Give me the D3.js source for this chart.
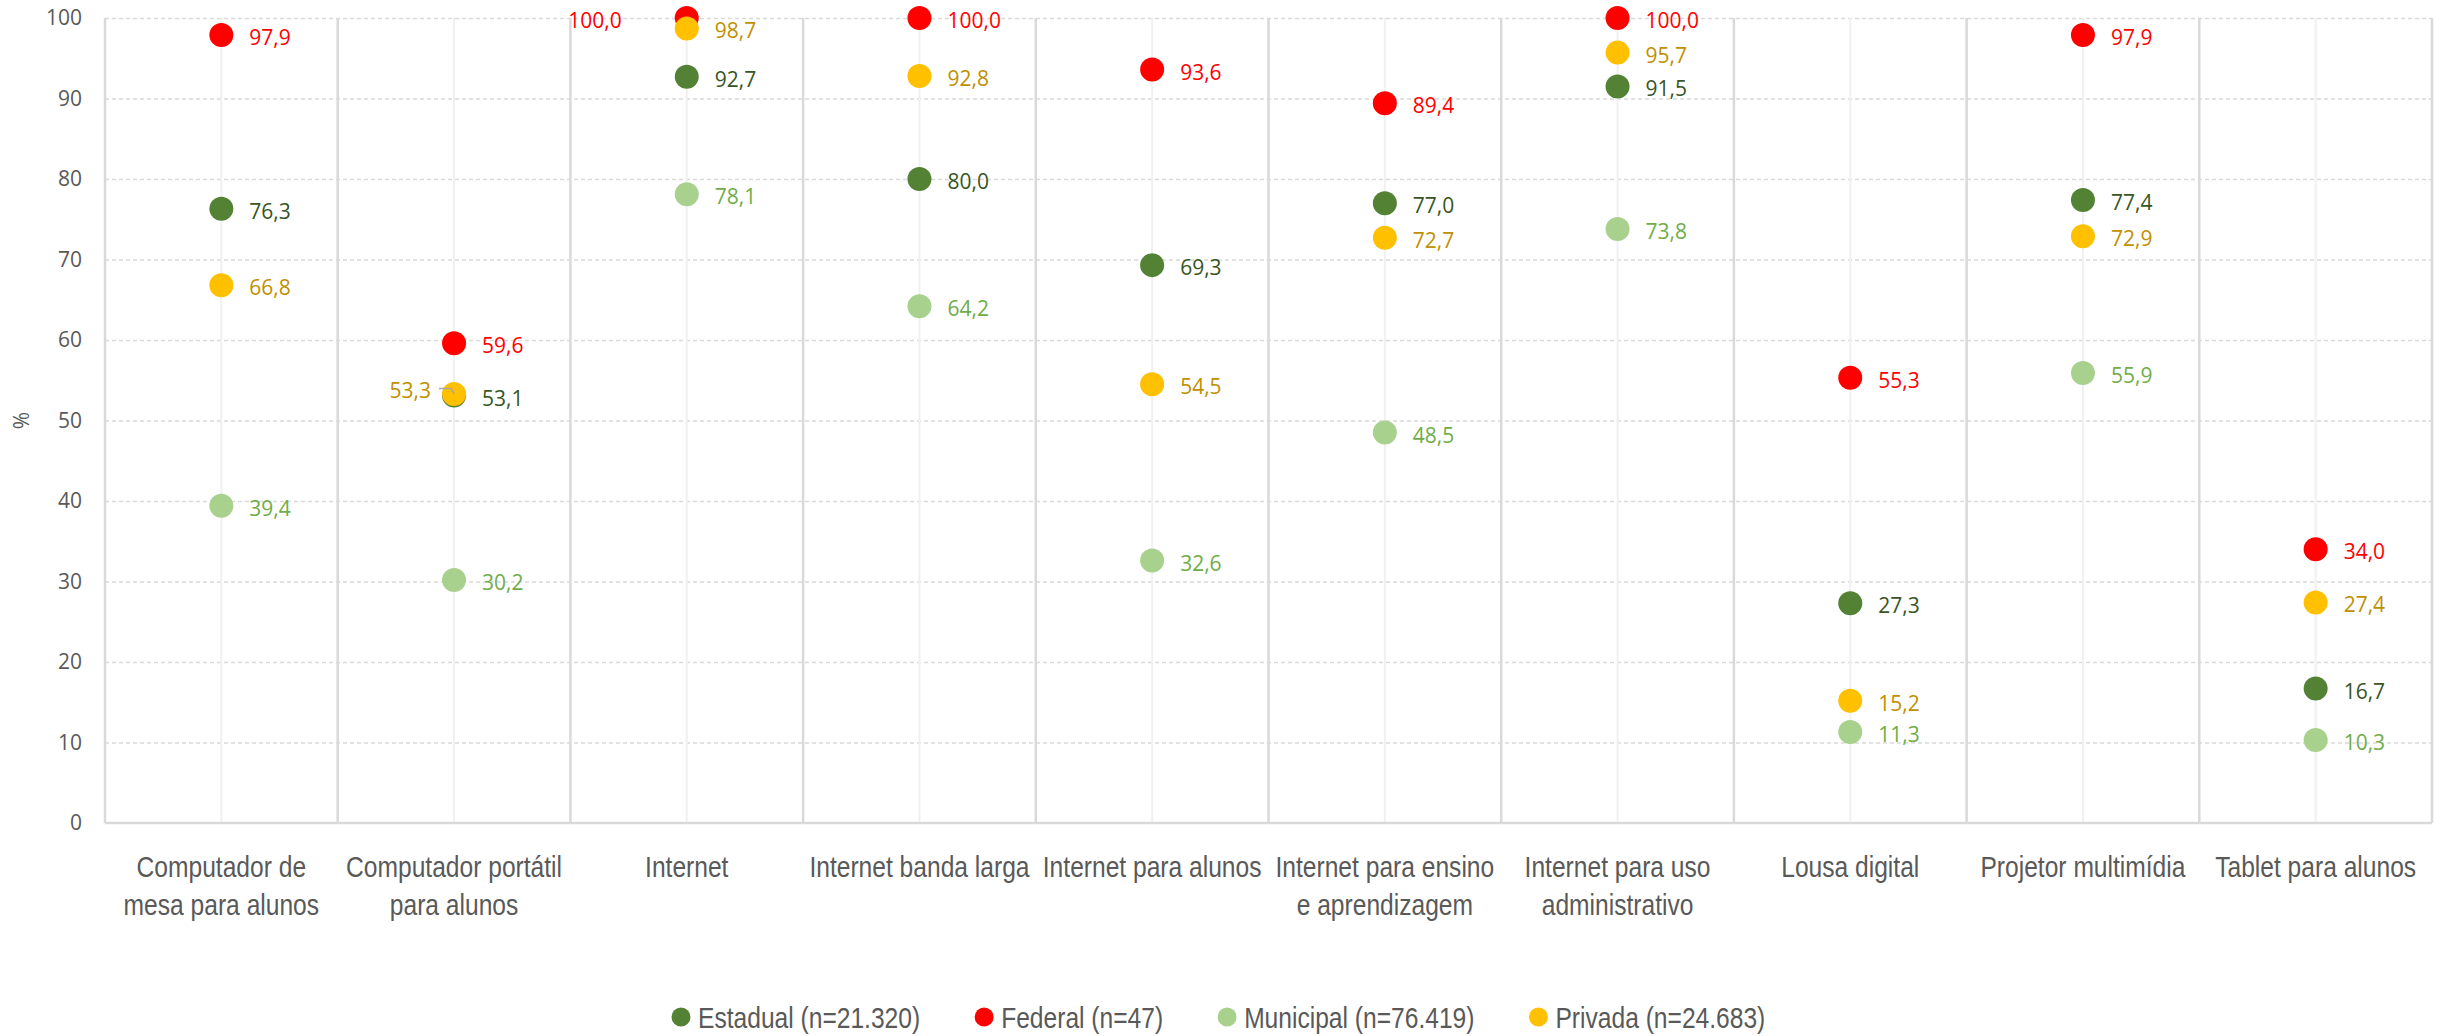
<!DOCTYPE html>
<html>
<head>
<meta charset="utf-8">
<title>Dot plot</title>
<script src="https://cdn.jsdelivr.net/npm/d3@7"></script>
<style>
  body { margin: 0; background: #fff; }
  .narrow { font-family: "Liberation Sans Narrow", "Arial Narrow", "Liberation Sans", sans-serif; }
  .num { font-family: "Open Sans", "Noto Sans", sans-serif; }
</style>
</head>
<body>
<svg width="2446" height="1036"></svg>
<script>
  // dados
  const categories = [
    "Computador de\nmesa para alunos",
    "Computador portátil\npara alunos",
    "Internet",
    "Internet banda larga",
    "Internet para alunos",
    "Internet para ensino\ne aprendizagem",
    "Internet para uso\nadministrativo",
    "Lousa digital",
    "Projetor multimídia",
    "Tablet para alunos"
  ];
  const seriesNames = ["Estadual (n=21.320)", "Federal (n=47)", "Municipal (n=76.419)", "Privada (n=24.683)"];
  const estadual  = [76.3, 53.1, 92.7, 80.0, 69.3, 77.0, 91.5, 27.3, 77.4, 16.7];
  const federal   = [97.9, 59.6, 100.0, 100.0, 93.6, 89.4, 100.0, 55.3, 97.9, 34.0];
  const municipal = [39.4, 30.2, 78.1, 64.2, 32.6, 48.5, 73.8, 11.3, 55.9, 10.3];
  const privada   = [66.8, 53.3, 98.7, 92.8, 54.5, 72.7, 95.7, 15.2, 72.9, 27.4];
  const yTicks = [0, 10, 20, 30, 40, 50, 60, 70, 80, 90, 100];

  const dotColors   = ["#548235", "#ff0000", "#a9d18e", "#ffc000"];
  const labelColors = ["#375623", "#ff0000", "#70ad47", "#bf9000"];
  // rótulos deslocados para a esquerda (série, categoria)
  const leftLabels = [[1, 2], [3, 1]];

  const series = [estadual, federal, municipal, privada].map((vals, i) => ({
    name: seriesNames[i], idx: i,
    points: vals.map((v, j) => ({ cat: categories[j], j: j, value: v }))
  }));

  const svg = d3.select("svg"),
        margin = {top: 18, right: 14, bottom: 213, left: 105},
        W = +svg.attr("width"), H = +svg.attr("height");

  // sem fonte estreita instalada: comprime a fonte normal
  const squeeze = 0.82;

  const x = d3.scaleBand().domain(categories).range([margin.left, W - margin.right]).padding(0),
        y = d3.scaleLinear().domain([0, 100]).range([H - margin.bottom, margin.top]);

  const fmt = v => d3.format(".1f")(v).replace(".", ",");

  // linhas de grade horizontais
  svg.append("g")
    .attr("transform", `translate(${margin.left},0)`)
    .call(d3.axisLeft(y).tickValues(yTicks.slice(1)).tickSize(-(W - margin.left - margin.right)).tickFormat(""))
    .call(g => g.select(".domain").remove())
    .call(g => g.selectAll("line").attr("stroke", "#d9d9d9").attr("stroke-width", 1.3).attr("stroke-dasharray", "4,3"));

  // linhas verticais centrais (claras)
  svg.append("g").selectAll("line")
    .data(categories).join("line")
    .attr("x1", d => x(d) + x.bandwidth() / 2).attr("x2", d => x(d) + x.bandwidth() / 2)
    .attr("y1", y(100)).attr("y2", y(0))
    .attr("stroke", "#f0f0f0").attr("stroke-width", 2);

  // separadores das categorias
  const seps = categories.map(d => x(d)).concat([x.range()[1]]);
  svg.append("g").selectAll("line")
    .data(seps).join("line")
    .attr("x1", d => d).attr("x2", d => d)
    .attr("y1", y(100)).attr("y2", y(0))
    .attr("stroke", "#d9d9d9").attr("stroke-width", 2.5);

  svg.append("line")
    .attr("x1", margin.left).attr("x2", W - margin.right)
    .attr("y1", y(0)).attr("y2", y(0))
    .attr("stroke", "#d9d9d9").attr("stroke-width", 2.5);

  // eixo Y
  svg.append("g")
    .attr("transform", `translate(${margin.left - 23},0)`)
    .call(d3.axisLeft(y).tickValues(yTicks).tickSize(0).tickPadding(0))
    .call(g => g.select(".domain").remove())
    .call(g => g.selectAll("text").attr("class", "num").attr("font-size", 21).attr("fill", "#595959"));

  svg.append("text")
    .attr("class", "num")
    .attr("transform", `translate(29,${y(50)}) rotate(-90)`)
    .attr("text-anchor", "middle")
    .attr("font-size", 21).attr("fill", "#595959")
    .text("%");

  // eixo X
  const xAxis = svg.append("g")
    .attr("transform", `translate(0,${y(0)})`)
    .call(d3.axisBottom(x).tickSize(0).tickFormat(""))
    .call(g => g.select(".domain").remove());
  xAxis.selectAll(".tick text").remove();
  xAxis.selectAll(".tick").append("text")
    .attr("class", "narrow")
    .attr("transform", `scale(${squeeze},1)`)
    .attr("text-anchor", "middle")
    .attr("font-size", 30).attr("fill", "#595959")
    .selectAll("tspan")
    .data(d => d.split("\n")).join("tspan")
    .attr("x", 0).attr("y", (d, i) => 54 + i * 38)
    .text(d => d);

  // pontos e rótulos
  const isLeft = (s, j) => leftLabels.some(p => p[0] === s && p[1] === j);
  const sg = svg.append("g").selectAll("g")
    .data(series).join("g");

  sg.selectAll("circle")
    .data(s => s.points.map(p => Object.assign({s: s.idx}, p))).join("circle")
    .attr("cx", d => x(d.cat) + x.bandwidth() / 2)
    .attr("cy", d => y(d.value))
    .attr("r", 12)
    .attr("fill", d => dotColors[d.s]);

  // linha de chamada para o rótulo deslocado
  svg.append("g").selectAll("path")
    .data(series[3].points.filter(p => isLeft(3, p.j))).join("path")
    .attr("d", d => {
      const cx = x(d.cat) + x.bandwidth() / 2, cy = y(d.value);
      return `M${cx - 15},${cy - 5.5}H${cx - 3}L${cx},${cy}`;
    })
    .attr("fill", "none").attr("stroke", "#a6a6a6").attr("stroke-width", 1.5);
  svg.selectAll("circle").filter(d => d && d.s === 3 && isLeft(3, d.j)).raise();

  const lg = svg.append("g");
  series.forEach(s => {
    lg.selectAll(null)
      .data(s.points).join("text")
      .attr("class", "num")
      .attr("font-size", 21)
      .attr("fill", labelColors[s.idx])
      .attr("dominant-baseline", "central")
      .attr("text-anchor", d => isLeft(s.idx, d.j) ? "end" : "start")
      .attr("x", d => {
        const cx = x(d.cat) + x.bandwidth() / 2;
        if (!isLeft(s.idx, d.j)) return cx + 28;
        return s.idx === 1 ? cx - 65 : cx - 23;
      })
      .attr("y", d => y(d.value) + (isLeft(s.idx, d.j) && s.idx === 3 ? -4 : 2))
      .text(d => fmt(d.value));
  });

  // legenda
  const legend = svg.append("g").attr("transform", `translate(0,1017)`);
  let lx = 681;
  series.forEach(s => {
    const it = legend.append("g").attr("transform", `translate(${lx},0)`);
    it.append("circle").attr("r", 9.5).attr("fill", dotColors[s.idx]);
    const t = it.append("text")
      .attr("class", "narrow")
      .attr("transform", `translate(17,0) scale(${squeeze},1)`)
      .attr("dy", "0.35em")
      .attr("font-size", 30).attr("fill", "#595959")
      .text(s.name);
    lx += 17 + t.node().getComputedTextLength() * squeeze + 64;
  });
</script>
</body>
</html>
